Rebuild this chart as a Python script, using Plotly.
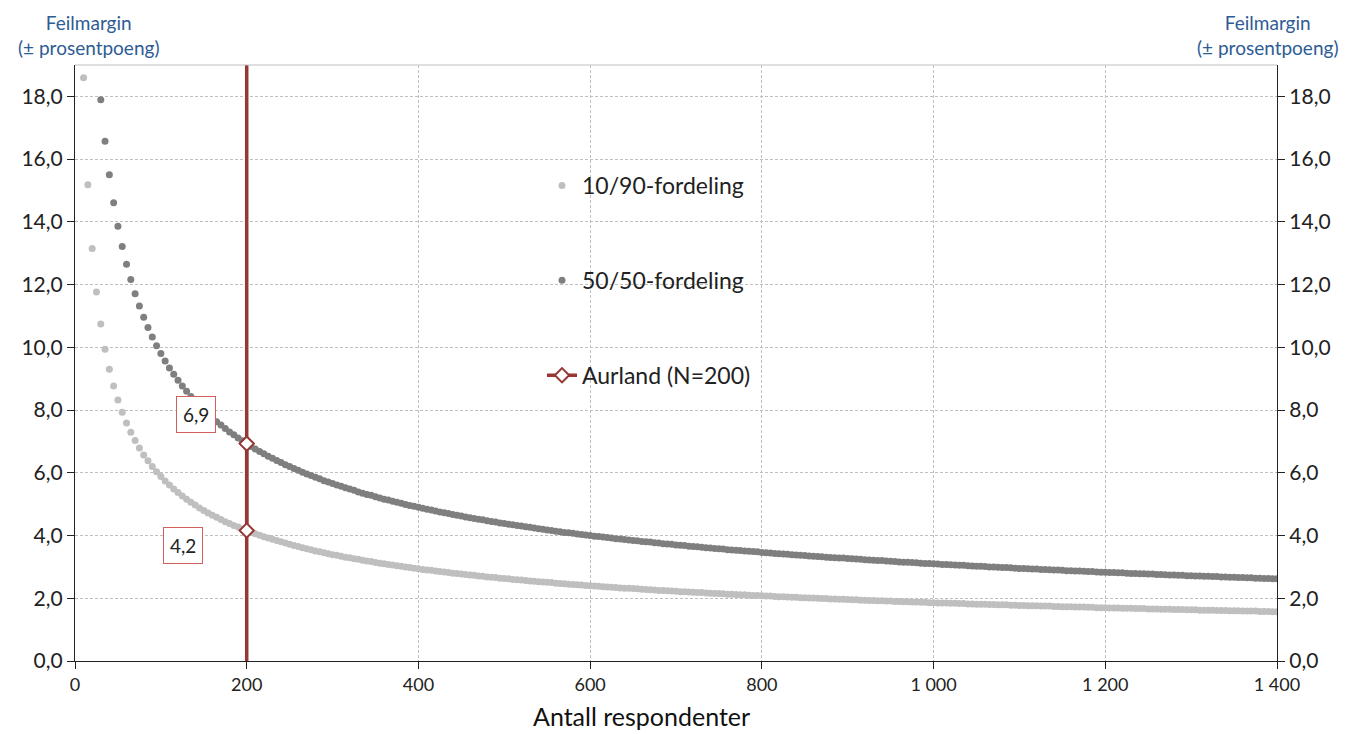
import plotly.graph_objects as go

# Antall respondenter
respondents = [
    10, 15, 20, 25, 30, 35, 40, 45, 50, 55, 60, 65, 70, 75, 80, 85, 90, 95, 100, 105,
    110, 115, 120, 125, 130, 135, 140, 145, 150, 155, 160, 165, 170, 175, 180, 185, 190, 195, 200, 205,
    210, 215, 220, 225, 230, 235, 240, 245, 250, 255, 260, 265, 270, 275, 280, 285, 290, 295, 300, 305,
    310, 315, 320, 325, 330, 335, 340, 345, 350, 355, 360, 365, 370, 375, 380, 385, 390, 395, 400, 405,
    410, 415, 420, 425, 430, 435, 440, 445, 450, 455, 460, 465, 470, 475, 480, 485, 490, 495, 500, 505,
    510, 515, 520, 525, 530, 535, 540, 545, 550, 555, 560, 565, 570, 575, 580, 585, 590, 595, 600, 605,
    610, 615, 620, 625, 630, 635, 640, 645, 650, 655, 660, 665, 670, 675, 680, 685, 690, 695, 700, 705,
    710, 715, 720, 725, 730, 735, 740, 745, 750, 755, 760, 765, 770, 775, 780, 785, 790, 795, 800, 805,
    810, 815, 820, 825, 830, 835, 840, 845, 850, 855, 860, 865, 870, 875, 880, 885, 890, 895, 900, 905,
    910, 915, 920, 925, 930, 935, 940, 945, 950, 955, 960, 965, 970, 975, 980, 985, 990, 995, 1000, 1005,
    1010, 1015, 1020, 1025, 1030, 1035, 1040, 1045, 1050, 1055, 1060, 1065, 1070, 1075, 1080, 1085, 1090, 1095, 1100, 1105,
    1110, 1115, 1120, 1125, 1130, 1135, 1140, 1145, 1150, 1155, 1160, 1165, 1170, 1175, 1180, 1185, 1190, 1195, 1200, 1205,
    1210, 1215, 1220, 1225, 1230, 1235, 1240, 1245, 1250, 1255, 1260, 1265, 1270, 1275, 1280, 1285, 1290, 1295, 1300, 1305,
    1310, 1315, 1320, 1325, 1330, 1335, 1340, 1345, 1350, 1355, 1360, 1365, 1370, 1375, 1380, 1385, 1390, 1395, 1400,
]

# 10/90-fordeling
margin_10_90 = [
    18.59, 15.18, 13.15, 11.76, 10.74, 9.94, 9.30, 8.77, 8.32, 7.93, 7.59, 7.29, 7.03, 6.79, 6.57, 6.38, 6.20, 6.03, 5.88, 5.74,
    5.61, 5.48, 5.37, 5.26, 5.16, 5.06, 4.97, 4.88, 4.80, 4.72, 4.65, 4.58, 4.51, 4.44, 4.38, 4.32, 4.27, 4.21, 4.16, 4.11,
    4.06, 4.01, 3.96, 3.92, 3.88, 3.84, 3.80, 3.76, 3.72, 3.68, 3.65, 3.61, 3.58, 3.55, 3.51, 3.48, 3.45, 3.42, 3.39, 3.37,
    3.34, 3.31, 3.29, 3.26, 3.24, 3.21, 3.19, 3.17, 3.14, 3.12, 3.10, 3.08, 3.06, 3.04, 3.02, 3.00, 2.98, 2.96, 2.94, 2.92,
    2.90, 2.89, 2.87, 2.85, 2.84, 2.82, 2.80, 2.79, 2.77, 2.76, 2.74, 2.73, 2.71, 2.70, 2.68, 2.67, 2.66, 2.64, 2.63, 2.62,
    2.60, 2.59, 2.58, 2.57, 2.55, 2.54, 2.53, 2.52, 2.51, 2.50, 2.48, 2.47, 2.46, 2.45, 2.44, 2.43, 2.42, 2.41, 2.40, 2.39,
    2.38, 2.37, 2.36, 2.35, 2.34, 2.33, 2.32, 2.32, 2.31, 2.30, 2.29, 2.28, 2.27, 2.26, 2.25, 2.25, 2.24, 2.23, 2.22, 2.21,
    2.21, 2.20, 2.19, 2.18, 2.18, 2.17, 2.16, 2.15, 2.15, 2.14, 2.13, 2.13, 2.12, 2.11, 2.11, 2.10, 2.09, 2.09, 2.08, 2.07,
    2.07, 2.06, 2.05, 2.05, 2.04, 2.03, 2.03, 2.02, 2.02, 2.01, 2.01, 2.00, 1.99, 1.99, 1.98, 1.98, 1.97, 1.97, 1.96, 1.95,
    1.95, 1.94, 1.94, 1.93, 1.93, 1.92, 1.92, 1.91, 1.91, 1.90, 1.90, 1.89, 1.89, 1.88, 1.88, 1.87, 1.87, 1.86, 1.86, 1.85,
    1.85, 1.85, 1.84, 1.84, 1.83, 1.83, 1.82, 1.82, 1.81, 1.81, 1.81, 1.80, 1.80, 1.79, 1.79, 1.79, 1.78, 1.78, 1.77, 1.77,
    1.76, 1.76, 1.76, 1.75, 1.75, 1.75, 1.74, 1.74, 1.73, 1.73, 1.73, 1.72, 1.72, 1.72, 1.71, 1.71, 1.70, 1.70, 1.70, 1.69,
    1.69, 1.69, 1.68, 1.68, 1.68, 1.67, 1.67, 1.67, 1.66, 1.66, 1.66, 1.65, 1.65, 1.65, 1.64, 1.64, 1.64, 1.63, 1.63, 1.63,
    1.62, 1.62, 1.62, 1.62, 1.61, 1.61, 1.61, 1.60, 1.60, 1.60, 1.59, 1.59, 1.59, 1.59, 1.58, 1.58, 1.58, 1.57, 1.57,
]

# 50/50-fordeling (values above the axis maximum are not shown)
margin_50_50 = [
    None, None, None, None, 17.89, 16.57, 15.50, 14.61, 13.86, 13.21, 12.65, 12.16, 11.71, 11.32, 10.96, 10.63, 10.33, 10.05, 9.80, 9.56,
    9.34, 9.14, 8.95, 8.77, 8.60, 8.43, 8.28, 8.14, 8.00, 7.87, 7.75, 7.63, 7.52, 7.41, 7.30, 7.21, 7.11, 7.02, 6.93, 6.84,
    6.76, 6.68, 6.61, 6.53, 6.46, 6.39, 6.33, 6.26, 6.20, 6.14, 6.08, 6.02, 5.96, 5.91, 5.86, 5.81, 5.75, 5.71, 5.66, 5.61,
    5.57, 5.52, 5.48, 5.44, 5.39, 5.35, 5.31, 5.28, 5.24, 5.20, 5.16, 5.13, 5.09, 5.06, 5.03, 4.99, 4.96, 4.93, 4.90, 4.87,
    4.84, 4.81, 4.78, 4.75, 4.73, 4.70, 4.67, 4.65, 4.62, 4.59, 4.57, 4.54, 4.52, 4.50, 4.47, 4.45, 4.43, 4.40, 4.38, 4.36,
    4.34, 4.32, 4.30, 4.28, 4.26, 4.24, 4.22, 4.20, 4.18, 4.16, 4.14, 4.12, 4.10, 4.09, 4.07, 4.05, 4.03, 4.02, 4.00, 3.98,
    3.97, 3.95, 3.94, 3.92, 3.90, 3.89, 3.87, 3.86, 3.84, 3.83, 3.81, 3.80, 3.79, 3.77, 3.76, 3.74, 3.73, 3.72, 3.70, 3.69,
    3.68, 3.66, 3.65, 3.64, 3.63, 3.61, 3.60, 3.59, 3.58, 3.57, 3.55, 3.54, 3.53, 3.52, 3.51, 3.50, 3.49, 3.48, 3.46, 3.45,
    3.44, 3.43, 3.42, 3.41, 3.40, 3.39, 3.38, 3.37, 3.36, 3.35, 3.34, 3.33, 3.32, 3.31, 3.30, 3.29, 3.28, 3.28, 3.27, 3.26,
    3.25, 3.24, 3.23, 3.22, 3.21, 3.20, 3.20, 3.19, 3.18, 3.17, 3.16, 3.15, 3.15, 3.14, 3.13, 3.12, 3.11, 3.11, 3.10, 3.09,
    3.08, 3.08, 3.07, 3.06, 3.05, 3.05, 3.04, 3.03, 3.02, 3.02, 3.01, 3.00, 3.00, 2.99, 2.98, 2.98, 2.97, 2.96, 2.95, 2.95,
    2.94, 2.93, 2.93, 2.92, 2.92, 2.91, 2.90, 2.90, 2.89, 2.88, 2.88, 2.87, 2.87, 2.86, 2.85, 2.85, 2.84, 2.83, 2.83, 2.82,
    2.82, 2.81, 2.81, 2.80, 2.79, 2.79, 2.78, 2.78, 2.77, 2.77, 2.76, 2.76, 2.75, 2.74, 2.74, 2.73, 2.73, 2.72, 2.72, 2.71,
    2.71, 2.70, 2.70, 2.69, 2.69, 2.68, 2.68, 2.67, 2.67, 2.66, 2.66, 2.65, 2.65, 2.64, 2.64, 2.63, 2.63, 2.62, 2.62,
]

# Aurland (N=200)
aurland_n = 200
aurland_margins = [6.93, 4.16]
aurland_labels = ["6,9", "4,2"]

series_names = ["10/90-fordeling", "50/50-fordeling", "Aurland (N=200)"]
y_ticks = [0, 2, 4, 6, 8, 10, 12, 14, 16, 18]
x_ticks = [0, 200, 400, 600, 800, 1000, 1200, 1400]

assert len(respondents) == len(margin_10_90) == len(margin_50_50)

FONT = "Lato, 'Open Sans', Arial, sans-serif"
LIGHT = "#BFBFBF"
DARK = "#7F7F7F"
RED = "#953735"
BLUE = "#2E5C94"

# the page body has an 8px margin: the figure starts at (8, 8) in the window
OFF = 8
W, H = 1349 - OFF, 734 - OFF
ML, MR, MT, MB = 75 - OFF, 72, 65 - OFF, 73
PW, PH = W - ML - MR, H - MT - MB


def px_x(px):
    return (px - OFF - ML) / PW


def px_y(py):
    return (H - MB - (py - OFF)) / PH


fig = go.Figure()

fig.add_trace(go.Scatter(
    x=respondents, y=margin_10_90, mode="markers", name=series_names[0],
    marker=dict(color=LIGHT, size=7), legendgroup="a",
))
fig.add_trace(go.Scatter(
    x=respondents, y=margin_50_50, mode="markers", name=series_names[1],
    marker=dict(color=DARK, size=7), legendgroup="b",
))
# vertical line for Aurland sample size
fig.add_trace(go.Scatter(
    x=[aurland_n, aurland_n], y=[0, 19], mode="lines",
    line=dict(color=RED, width=3.5), showlegend=False, hoverinfo="skip",
))
fig.add_trace(go.Scatter(
    x=[aurland_n] * len(aurland_margins), y=aurland_margins, mode="lines+markers",
    name=series_names[2], legendgroup="c",
    line=dict(color=RED, width=3.5),
    marker=dict(symbol="diamond", size=11, color="white", line=dict(color=RED, width=2)),
))
# invisible trace for right axis
fig.add_trace(go.Scatter(
    x=[aurland_n], y=[0], yaxis="y2", mode="markers",
    marker=dict(opacity=0), showlegend=False, hoverinfo="skip",
))

label_pos = [(141, 7.87), (126, 3.67)]
for (lx, ly), txt in zip(label_pos, aurland_labels):
    fig.add_annotation(
        x=lx, y=ly, xref="x", yref="y", text=txt, showarrow=False,
        font=dict(family=FONT, size=19, color="#222"),
        bgcolor="white", bordercolor="#D0605E", borderwidth=1, borderpad=6,
    )

for xp in (88, 1267):
    fig.add_annotation(
        x=px_x(xp), y=px_y(9), xref="paper", yref="paper",
        xanchor="center", yanchor="top", showarrow=False,
        text="Feilmargin<br>(± prosentpoeng)",
        font=dict(family=FONT, size=19, color=BLUE),
    )

fig.add_annotation(
    x=px_x(641), y=px_y(716), xref="paper", yref="paper", xanchor="center", yanchor="middle",
    text="Antall respondenter", showarrow=False,
    font=dict(family=FONT, size=25, color="#111"),
)

# top border of the plot area
fig.add_shape(type="line", xref="paper", yref="paper", x0=0, x1=1, y0=1, y1=1,
              line=dict(color="#BFBFBF", width=1))

axis_common = dict(showline=True, linecolor="#222", linewidth=1.2, ticks="outside",
                   tickcolor="#222", ticklen=7, zeroline=False, automargin=False)

fig.update_layout(
    width=W, height=H,
    margin=dict(l=ML, r=MR, t=MT, b=MB, autoexpand=False),
    paper_bgcolor="white", plot_bgcolor="white",
    separators=", ",
    font=dict(family=FONT, color="#222"),
    xaxis=dict(range=[0, 1400], tickvals=x_ticks, tickformat=",d",
               showgrid=True, gridcolor="#BFBFBF", griddash="3px,2px", gridwidth=1,
               tickfont=dict(size=18), **axis_common),
    yaxis=dict(range=[0, 19], tickvals=y_ticks, tickformat=".1f",
               showgrid=True, gridcolor="#BFBFBF", griddash="3px,2px", gridwidth=1,
               tickfont=dict(size=21), **axis_common),
    yaxis2=dict(range=[0, 19], tickvals=y_ticks, tickformat=".1f", overlaying="y",
                side="right", showgrid=False, tickfont=dict(size=21), **axis_common),
    legend=dict(x=px_x(542), y=px_y(164), xanchor="left", yanchor="top",
                bgcolor="rgba(0,0,0,0)", font=dict(family=FONT, size=23, color="#222"),
                tracegroupgap=62, itemwidth=30),
    showlegend=True,
)

fig.write_html("out.html")
